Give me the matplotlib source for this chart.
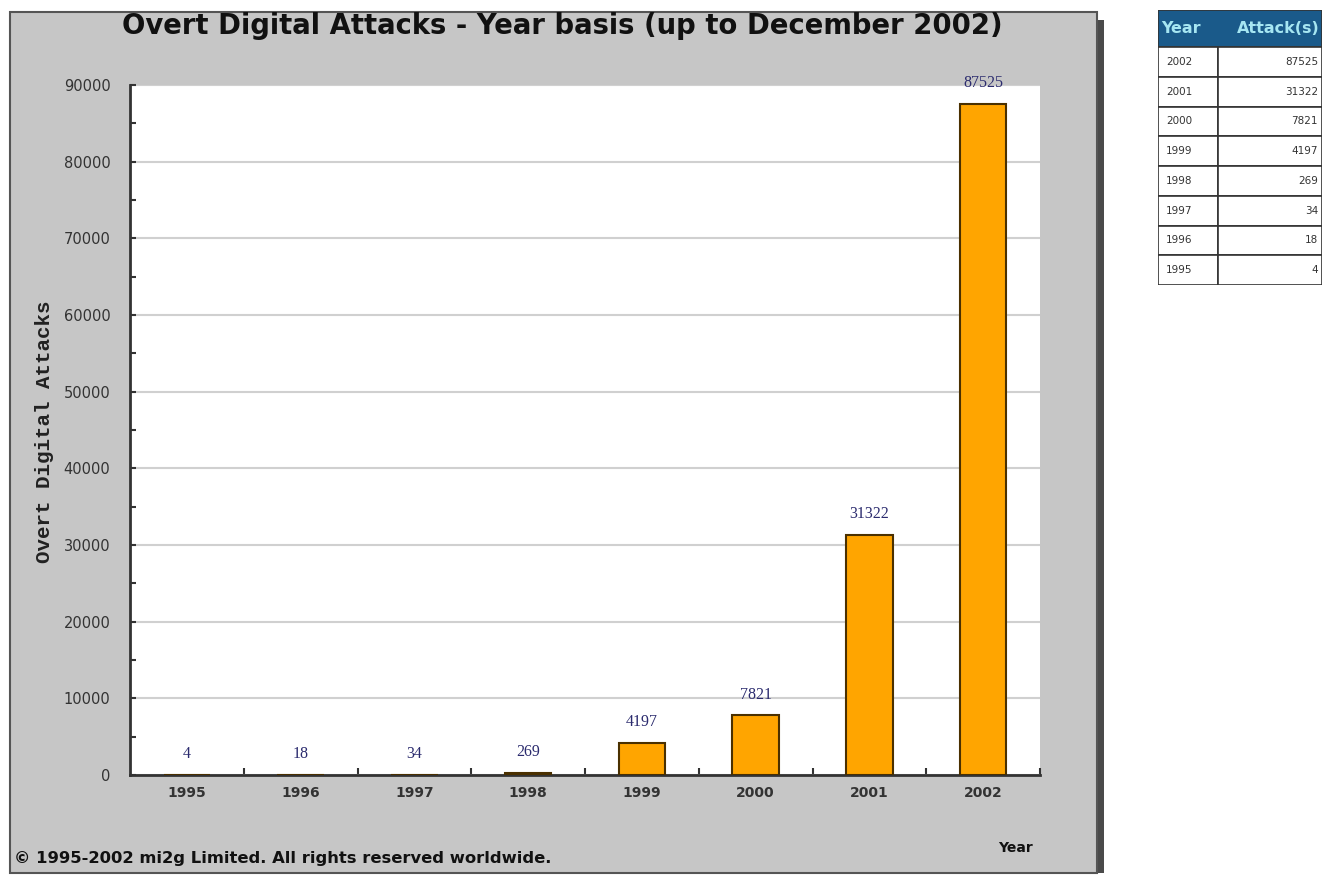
import matplotlib
matplotlib.use('Agg')
from matplotlib import pyplot as plt
from matplotlib.patches import Rectangle
from matplotlib.ticker import MultipleLocator

years = ['1995', '1996', '1997', '1998', '1999', '2000', '2001', '2002']
attacks = [4, 18, 34, 269, 4197, 7821, 31322, 87525]
table_header = ['Year', 'Attack(s)']

W, H = 1323, 875
fig = plt.figure(figsize=(W / 100, H / 100), dpi=100)
fig.patch.set_facecolor('white')


def fx(px):
    return px / W


def fy(py):
    return 1 - py / H


# grey panel with shadow
fig.patches.append(Rectangle((fx(1096), fy(873)), fx(8), fy(20) - fy(873),
                             transform=fig.transFigure, facecolor='#4a4a4a',
                             edgecolor='none', zorder=-2))
fig.patches.append(Rectangle((fx(10), fy(873)), fx(1087), fy(12) - fy(873),
                             transform=fig.transFigure, facecolor='#c6c6c6',
                             edgecolor='#555555', linewidth=1.5, zorder=-1))

ax = fig.add_axes([fx(130), fy(775), fx(1040) - fx(130), fy(85) - fy(775)])
ax.set_facecolor('white')
x = list(range(len(years)))
bars = ax.bar(x, attacks, width=0.41, color='#ffa500', edgecolor='#4a3000',
              linewidth=1.5, zorder=3)
ax.bar_label(bars, labels=[str(v) for v in attacks], padding=9,
             color='#2b2b6e', fontsize=11.5, family='Liberation Serif')

ax.set_xlim(-0.5, len(years) - 0.5)
ax.set_ylim(0, 90000)
ax.set_xticks(x)
ax.set_xticklabels(years, fontsize=10, fontweight='bold', color='#333333')
ax.set_xticks([i + 0.5 for i in x], minor=True)
ax.tick_params(axis='x', which='major', length=0, pad=8)
ax.tick_params(axis='x', which='minor', direction='in', length=5, width=1.5,
               color='#333333')

ax.yaxis.set_major_locator(MultipleLocator(10000))
ax.yaxis.set_minor_locator(MultipleLocator(5000))
ax.tick_params(axis='y', which='both', direction='in', length=4, width=1.5,
               color='#333333', labelsize=10.5, labelcolor='#333333', pad=14)
ax.yaxis.grid(True, color='#d0d0d0', linewidth=1.5, zorder=0)
ax.set_axisbelow(True)

for s in ['top', 'right']:
    ax.spines[s].set_visible(False)
for s in ['left', 'bottom']:
    ax.spines[s].set_color('#333333')
    ax.spines[s].set_linewidth(2)

fig.text(fx(562), fy(26), 'Overt Digital Attacks - Year basis (up to December 2002)',
         ha='center', va='center', fontsize=19.8, fontweight='bold',
         family='DejaVu Sans', color='#111111')
fig.text(fx(45), fy(432), 'Overt Digital Attacks', rotation=90, ha='center',
         va='center', fontsize=15, fontweight='bold', family='Liberation Mono',
         color='#222222')
fig.text(fx(1015), fy(848), 'Year', ha='center', va='center', fontsize=10,
         fontweight='bold', color='#111111')
fig.text(fx(14), fy(858), '\u00a9 1995-2002 mi2g Limited. All rights reserved worldwide.',
         ha='left', va='center', fontsize=11.8, fontweight='bold',
         family='DejaVu Sans', color='#111111')

# data table on the right
tax = fig.add_axes([fx(1158), fy(285), fx(1322) - fx(1158), fy(10) - fy(285)])
tax.set_xlim(0, 164)
tax.set_ylim(275, 0)
tax.axis('off')
header_h = 37
row_h = (275 - header_h) / len(years)
split = 60
tax.add_patch(Rectangle((0, 0), 164, header_h, facecolor='#1a5a8a',
                        edgecolor='#333333', linewidth=1.2))
tax.text(3, header_h / 2, table_header[0], ha='left', va='center',
         color='#a6e6f2', fontsize=11.5, fontweight='bold')
tax.text(162, header_h / 2, table_header[1], ha='right', va='center',
         color='#a6e6f2', fontsize=11.5, fontweight='bold')
rows = list(zip(years, attacks))[::-1]
for i, (yr, val) in enumerate(rows):
    y0 = header_h + i * row_h
    tax.add_patch(Rectangle((0, y0), split, row_h, facecolor='white',
                            edgecolor='#333333', linewidth=1.2))
    tax.add_patch(Rectangle((split, y0), 164 - split, row_h, facecolor='white',
                            edgecolor='#333333', linewidth=1.2))
    tax.text(8, y0 + row_h / 2, yr, ha='left', va='center', fontsize=7.5,
             color='#333333')
    tax.text(160, y0 + row_h / 2, str(val), ha='right', va='center',
             fontsize=7.5, color='#333333')

fig.savefig('out.png', dpi=100)
